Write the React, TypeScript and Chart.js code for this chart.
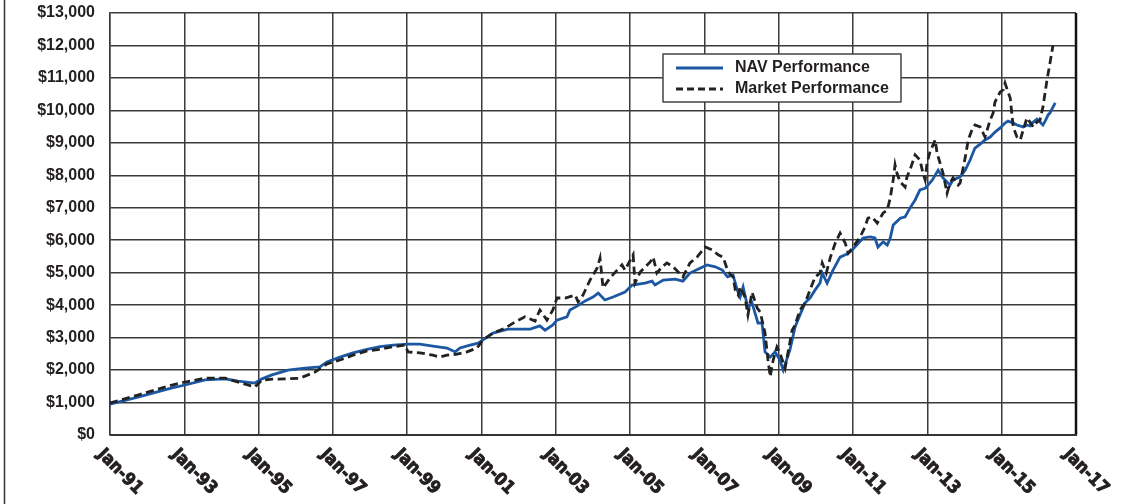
import React, { useEffect, useRef } from "react";
import { Chart, registerables } from "chart.js";

Chart.register(...registerables);

const xTickYears = [1991, 1993, 1995, 1997, 1999, 2001, 2003, 2005, 2007, 2009, 2011, 2013, 2015, 2017];
const xTickLabels = ["Jan-91", "Jan-93", "Jan-95", "Jan-97", "Jan-99", "Jan-01", "Jan-03", "Jan-05", "Jan-07", "Jan-09", "Jan-11", "Jan-13", "Jan-15", "Jan-17"];

const navYears = [
  1991.0, 1991.75, 1992.67, 1993.02, 1993.56, 1994.1, 1994.45, 1994.9, 1995.09, 1995.36, 1995.79, 1996.25, 1996.65, 1996.84,
  1997.19, 1997.54, 1997.92, 1998.27, 1998.62, 1999.02, 1999.34, 1999.69, 2000.07, 2000.29, 2000.42, 2000.69, 2000.91,
  2001.04, 2001.31, 2001.71, 2002.04, 2002.31, 2002.57, 2002.71, 2002.92, 2003.03, 2003.3, 2003.38, 2003.57, 2003.79,
  2004.0, 2004.14, 2004.32, 2004.54, 2004.86, 2005.05, 2005.4, 2005.59, 2005.67, 2005.89, 2006.21, 2006.42, 2006.61,
  2006.88, 2007.07, 2007.29, 2007.48, 2007.62, 2007.77, 2007.88, 2007.96, 2008.04, 2008.17, 2008.28, 2008.44, 2008.55,
  2008.63, 2008.77, 2008.9, 2009.03, 2009.12, 2009.3, 2009.44, 2009.57, 2009.71, 2009.84, 2009.98, 2010.11, 2010.17,
  2010.3, 2010.46, 2010.65, 2010.79, 2010.92, 2011.05, 2011.27, 2011.46, 2011.59, 2011.67, 2011.81, 2011.92, 2012.0,
  2012.08, 2012.27, 2012.4, 2012.53, 2012.67, 2012.8, 2012.94, 2013.13, 2013.29, 2013.42, 2013.61, 2013.69, 2013.88,
  2014.02, 2014.15, 2014.28, 2014.42, 2014.55, 2014.69, 2014.82, 2014.96, 2015.09, 2015.17, 2015.31, 2015.41, 2015.58,
  2015.68, 2015.76, 2015.85, 2015.95, 2016.03, 2016.11, 2016.17, 2016.25, 2016.3, 2016.38, 2016.44,
];
const navValues = [
  950, 1170, 1450, 1540, 1700, 1730, 1660, 1600, 1730, 1850, 2000, 2060, 2100, 2250,
  2400, 2530, 2640, 2720, 2770, 2800, 2800, 2740, 2680, 2560, 2680, 2770, 2830,
  2930, 3140, 3260, 3260, 3260, 3360, 3230, 3390, 3540, 3640, 3850, 3970, 4130,
  4250, 4370, 4160, 4250, 4400, 4620, 4680, 4740, 4620, 4770, 4800, 4740, 4990,
  5140, 5240, 5180, 5080, 4870, 4930, 4470, 4250, 4560, 3910, 4070, 3450, 3450,
  2560, 2400, 2560, 2310, 2000, 2620, 3330, 3700, 4070, 4220, 4470, 4680, 4990,
  4680, 5080, 5480, 5550, 5640, 5790, 6070, 6100, 6070, 5790, 5950, 5850, 6070,
  6470, 6680, 6720, 6990, 7240, 7550, 7600, 7850, 8160, 7920, 7700, 7860, 7950,
  8160, 8470, 8840, 8960, 9090, 9180, 9330, 9460, 9610, 9670, 9610, 9550, 9490,
  9550, 9520, 9640, 9730, 9640, 9550, 9670, 9860, 9920, 10100, 10230,
];

const mktYears = [
  1991.0, 1991.75, 1992.67, 1993.02, 1993.56, 1994.1, 1994.45, 1994.9, 1995.09, 1995.36, 1995.79, 1996.11, 1996.52, 1996.84,
  1997.19, 1997.54, 1997.92, 1998.27, 1998.62, 1998.94, 1999.02, 1999.34, 1999.69, 1999.88, 2000.07, 2000.34, 2000.61,
  2000.88, 2001.04, 2001.31, 2001.63, 2001.9, 2002.17, 2002.44, 2002.57, 2002.76, 2002.92, 2003.03, 2003.25, 2003.52,
  2003.6, 2003.73, 2003.92, 2004.11, 2004.19, 2004.27, 2004.46, 2004.65, 2004.78, 2004.86, 2005.08, 2005.13, 2005.27,
  2005.54, 2005.62, 2005.72, 2005.86, 2005.99, 2006.16, 2006.42, 2006.61, 2006.8, 2007.02, 2007.21, 2007.37, 2007.5,
  2007.64, 2007.77, 2007.83, 2007.91, 2007.96, 2008.09, 2008.17, 2008.28, 2008.42, 2008.5, 2008.63, 2008.71, 2008.77,
  2008.85, 2008.95, 2009.03, 2009.17, 2009.36, 2009.44, 2009.57, 2009.71, 2009.84, 2009.98, 2010.11, 2010.17, 2010.28,
  2010.39, 2010.52, 2010.65, 2010.79, 2010.87, 2011.0, 2011.19, 2011.32, 2011.4, 2011.51, 2011.65, 2011.81, 2011.92,
  2012.0, 2012.08, 2012.13, 2012.18, 2012.27, 2012.4, 2012.45, 2012.53, 2012.67, 2012.8, 2012.88, 2012.94, 2012.99,
  2013.07, 2013.21, 2013.26, 2013.34, 2013.42, 2013.53, 2013.61, 2013.69, 2013.83, 2013.88, 2014.02, 2014.1, 2014.2,
  2014.28, 2014.42, 2014.55, 2014.69, 2014.77, 2014.82, 2014.96, 2015.04, 2015.09, 2015.17, 2015.23, 2015.31, 2015.41,
  2015.5, 2015.58, 2015.68, 2015.76, 2015.85, 2015.95, 2016.03, 2016.11, 2016.22, 2016.3, 2016.38,
];
const mktValues = [
  985, 1230, 1540, 1630, 1750, 1750, 1630, 1480, 1690, 1720, 1730, 1750, 1940, 2190,
  2310, 2460, 2590, 2640, 2720, 2770, 2560, 2530, 2460, 2400, 2460, 2490, 2560,
  2680, 2930, 3140, 3290, 3480, 3640, 3510, 3850, 3540, 3850, 4220, 4220, 4310,
  4100, 4310, 4770, 5140, 5450, 4530, 4840, 5080, 5240, 5080, 5550, 4680, 5020,
  5330, 5480, 4990, 5180, 5300, 5180, 4870, 5300, 5480, 5790, 5700, 5550, 5480,
  5020, 4870, 4470, 4310, 4560, 4250, 3700, 4400, 3910, 3790, 3140, 2310, 1800,
  2310, 2710, 2530, 2060, 3230, 3390, 3850, 4070, 4470, 4870, 4990, 5300, 4990,
  5480, 5910, 6220, 5910, 5600, 5790, 6100, 6410, 6680, 6720, 6530, 6840, 6930,
  7300, 7860, 8320, 8070, 7790, 7640, 7950, 8160, 8630, 8470, 8070, 7860, 8380,
  8720, 9090, 8690, 8380, 8070, 7450, 7760, 7920, 7700, 7760, 8560, 9090, 9400,
  9550, 9490, 9180, 9700, 9920, 10260, 10570, 10630, 10840, 10570, 10380, 9490, 9180,
  9090, 9400, 9770, 9640, 9490, 9640, 9700, 10100, 10940, 11460, 12000,
];

const seriesLabels = ["NAV Performance", "Market Performance"];
const navColor = "#1b57a3";
const mktColor = "#222222";
const textColor = "#231f20";
const gridColor = "#3a3a3a";

export default function App() {
  const ref = useRef<HTMLCanvasElement | null>(null);
  useEffect(() => {
    const canvas = ref.current;
    if (!canvas) return;
    const navData = navYears.map((x, i) => ({ x, y: navValues[i] }));
    const mktData = mktYears.map((x, i) => ({ x, y: mktValues[i] }));

    const decor = {
      id: "decor",
      afterDraw(chart: any) {
        const ctx = chart.ctx;
        const area = chart.chartArea;
        const xs = chart.scales.x;
        ctx.save();
        // left page border
        ctx.strokeStyle = "#333";
        ctx.lineWidth = 1.5;
        ctx.beginPath();
        ctx.moveTo(4.5, 0);
        ctx.lineTo(4.5, chart.height);
        ctx.stroke();
        // right and bottom frame
        ctx.strokeStyle = "#111";
        ctx.lineWidth = 2.5;
        ctx.beginPath();
        ctx.moveTo(area.right, area.top);
        ctx.lineTo(area.right, area.bottom);
        ctx.stroke();
        ctx.lineWidth = 2;
        ctx.strokeStyle = "#333";
        ctx.beginPath();
        ctx.moveTo(area.left, area.bottom);
        ctx.lineTo(area.right + 1, area.bottom);
        ctx.stroke();
        // rotated x labels
        ctx.fillStyle = textColor;
        ctx.strokeStyle = textColor;
        ctx.lineWidth = 0.9;
        ctx.lineJoin = "round";
        ctx.font = "bold 17.5px 'Liberation Sans Narrow', 'DejaVu Sans Condensed', sans-serif";
        ctx.textAlign = "left";
        ctx.textBaseline = "middle";
        xTickYears.forEach((yr, i) => {
          const px = xs.getPixelForValue(yr);
          ctx.save();
          ctx.translate(px - 10, 452);
          ctx.rotate(Math.PI / 4);
          ctx.fillText(xTickLabels[i], 0, 0);
          ctx.strokeText(xTickLabels[i], 0, 0);
          ctx.restore();
        });
        // legend
        const lx = 663, ly = 54, lw = 238, lh = 48;
        ctx.fillStyle = "#fff";
        ctx.fillRect(lx, ly, lw, lh);
        ctx.strokeStyle = "#444";
        ctx.lineWidth = 1.5;
        ctx.strokeRect(lx, ly, lw, lh);
        ctx.lineWidth = 2.8;
        ctx.strokeStyle = navColor;
        ctx.beginPath();
        ctx.moveTo(676, 68);
        ctx.lineTo(723, 68);
        ctx.stroke();
        ctx.strokeStyle = mktColor;
        ctx.setLineDash([7, 4]);
        ctx.beginPath();
        ctx.moveTo(676, 89);
        ctx.lineTo(723, 89);
        ctx.stroke();
        ctx.setLineDash([]);
        ctx.fillStyle = textColor;
        ctx.font = "bold 16px 'Liberation Sans', Arial, sans-serif";
        ctx.textBaseline = "middle";
        ctx.fillText(seriesLabels[0], 735, 68);
        ctx.fillText(seriesLabels[1], 735, 89);
        ctx.restore();
      },
    };

    const chart = new Chart(canvas, {
      type: "line",
      data: {
        datasets: [
          {
            label: seriesLabels[0],
            data: navData,
            borderColor: navColor,
            borderWidth: 2.8,
            pointRadius: 0,
            tension: 0,
            fill: false,
            order: 2,
          },
          {
            label: seriesLabels[1],
            data: mktData,
            borderColor: mktColor,
            borderWidth: 2.8,
            borderDash: [8, 4.5],
            pointRadius: 0,
            tension: 0,
            fill: false,
            order: 1,
          },
        ],
      },
      options: {
        animation: false,
        responsive: false,
        maintainAspectRatio: false,
        layout: { padding: { top: 13, right: 65, left: 0, bottom: 0 } },
        plugins: { legend: { display: false }, tooltip: { enabled: false } },
        scales: {
          x: {
            type: "linear",
            min: 1991,
            max: 2017,
            ticks: { display: false, stepSize: 2 },
            grid: { color: gridColor, lineWidth: 1.5, drawTicks: false },
            border: { display: false },
            afterFit: (s: any) => {
              s.height = 69;
              s.paddingLeft = 0;
              s.paddingRight = 0;
            },
          },
          y: {
            min: 0,
            max: 13000,
            ticks: {
              stepSize: 1000,
              padding: 15,
              color: textColor,
              font: { family: "'Liberation Sans', Arial, sans-serif", size: 16, weight: "bold" },
              callback: (v: any) => "$" + Number(v).toLocaleString("en-US"),
            },
            grid: { color: gridColor, lineWidth: 1.5, drawTicks: false },
            border: { color: gridColor, width: 1.5 },
            afterFit: (s: any) => {
              s.width = 110;
              s.paddingTop = 0;
              s.paddingBottom = 0;
            },
          },
        },
      },
      plugins: [decor],
    });
    return () => chart.destroy();
  }, []);

  return (
    <div style={{ position: "absolute", left: 0, top: 0, width: 1141, height: 504, background: "#fff" }}>
      <canvas ref={ref} width={1141} height={504} style={{ display: "block", width: 1141, height: 504 }} />
    </div>
  );
}
